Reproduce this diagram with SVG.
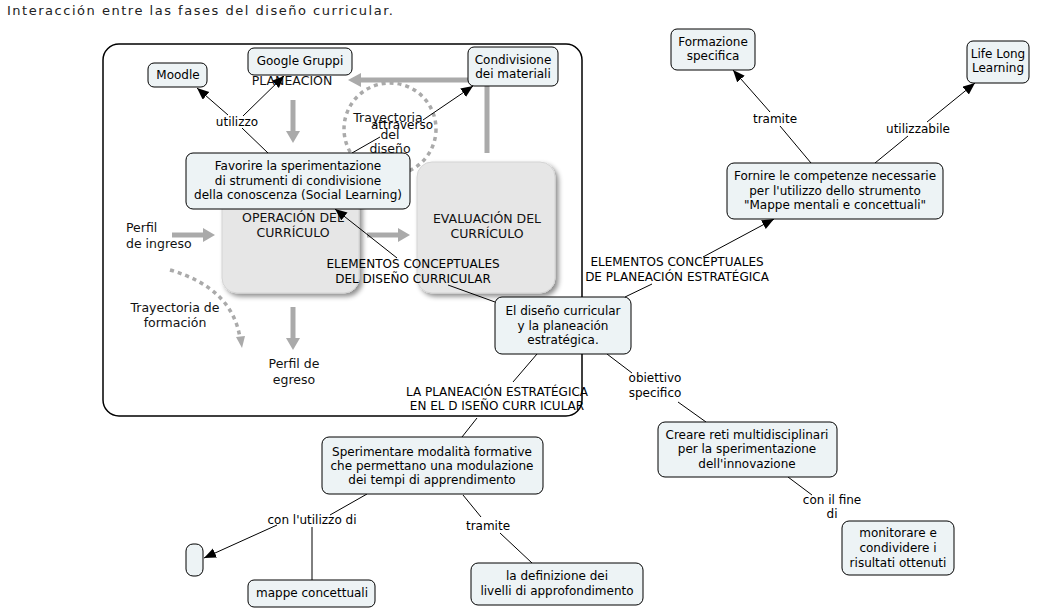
<svg xmlns="http://www.w3.org/2000/svg" width="1041" height="610" viewBox="0 0 1041 610">
<defs>
<style>
.t{font-family:"DejaVu Sans",Verdana,sans-serif;font-size:12px;fill:#000;text-anchor:middle}
.bg{font-family:"DejaVu Sans",Verdana,sans-serif;font-size:12.5px;fill:#111;text-anchor:middle}
.node{fill:#edf3f5;stroke:#000;stroke-width:1}
.ln{stroke:#000;stroke-width:1;fill:none}
.ga{stroke:#aaa;stroke-width:5;fill:none}
.gh{fill:#aaa}
.gd{stroke:#aaa;stroke-width:3.5;fill:none;stroke-dasharray:4 4}
.gb{fill:#e6e6e6;stroke:#d4d4d4;stroke-width:1}
</style>
<marker id="ah" markerUnits="userSpaceOnUse" markerWidth="14" markerHeight="12" refX="12" refY="5" orient="auto">
<path d="M0,0 L12,5 L0,10 z" fill="#000"/>
</marker>
<filter id="sh" x="-20%" y="-20%" width="150%" height="150%">
<feDropShadow dx="3" dy="3" stdDeviation="2.5" flood-color="#000" flood-opacity="0.45"/>
</filter>
</defs>
<rect width="1041" height="610" fill="#fff"/>
<text x="7" y="15" style="font-family:'DejaVu Sans',sans-serif;font-size:13px;fill:#222" textLength="386" lengthAdjust="spacing">Interacción entre las fases del diseño curricular.</text>

<g id="background">
<rect x="103" y="44" width="479" height="372" rx="16" fill="none" stroke="#000" stroke-width="1.5"/>
<circle cx="390" cy="129" r="46" class="gd"/>
<path d="M170,270 Q232,288 240,338" class="gd"/>
<polygon points="242,348 236,337 245,336" class="gh"/>
<polyline points="487,153 487,80 360,80" class="ga"/>
<polygon points="348,80 361,73 361,87" class="gh"/>
<line x1="293" y1="100" x2="293" y2="132" class="ga"/>
<polygon points="293,143 286,131 300,131" class="gh"/>
<line x1="172" y1="235" x2="204" y2="235" class="ga"/>
<polygon points="215,235 203,228 203,242" class="gh"/>
<line x1="367" y1="235" x2="399" y2="235" class="ga"/>
<polygon points="410,235 398,228 398,242" class="gh"/>
<line x1="293" y1="307" x2="293" y2="339" class="ga"/>
<polygon points="293,350 286,338 300,338" class="gh"/>
<rect x="222" y="162" width="137" height="131" rx="15" class="gb" filter="url(#sh)"/>
<rect x="417" y="162" width="138" height="131" rx="15" class="gb" filter="url(#sh)"/>
<text class="bg" x="292" y="85">PLANEACIÓN</text>
<text class="bg" x="388" y="122">Trayectoria</text>
<text class="bg" x="390" y="139">del</text>
<text class="bg" x="390" y="153">diseño</text>
<text class="bg" x="126" y="232" style="text-anchor:start">Perfil</text>
<text class="bg" x="126" y="248" style="text-anchor:start">de ingreso</text>
<text class="bg" x="293" y="222">OPERACIÓN DEL</text>
<text class="bg" x="293" y="237">CURRÍCULO</text>
<text class="bg" x="487" y="223">EVALUACIÓN DEL</text>
<text class="bg" x="487" y="238">CURRÍCULO</text>
<text class="bg" x="175" y="312">Trayectoria de</text>
<text class="bg" x="175" y="327">formación</text>
<text class="bg" x="294" y="368">Perfil de</text>
<text class="bg" x="294" y="384">egreso</text>
</g>

<g id="connectors">
<line x1="268" y1="153" x2="242" y2="128" class="ln"/>
<line x1="228" y1="115" x2="197" y2="88" class="ln" marker-end="url(#ah)"/>
<line x1="243" y1="116" x2="284" y2="76" class="ln" marker-end="url(#ah)"/>
<line x1="352" y1="153" x2="380" y2="137" class="ln"/>
<line x1="423" y1="120" x2="473" y2="86" class="ln" marker-end="url(#ah)"/>
<line x1="495" y1="302" x2="448" y2="285" class="ln"/>
<line x1="397" y1="258" x2="335" y2="209" class="ln" marker-end="url(#ah)"/>
<line x1="625" y1="297" x2="652" y2="284" class="ln"/>
<line x1="703" y1="257" x2="774" y2="219" class="ln" marker-end="url(#ah)"/>
<line x1="811" y1="163" x2="780" y2="126" class="ln"/>
<line x1="770" y1="112" x2="733" y2="70" class="ln" marker-end="url(#ah)"/>
<line x1="875" y1="163" x2="908" y2="136" class="ln"/>
<line x1="927" y1="122" x2="975" y2="83" class="ln" marker-end="url(#ah)"/>
<line x1="537" y1="354" x2="513" y2="382" class="ln"/>
<line x1="477" y1="418" x2="462" y2="437" class="ln"/>
<line x1="607" y1="354" x2="632" y2="373" class="ln"/>
<line x1="678" y1="402" x2="706" y2="422" class="ln"/>
<line x1="788" y1="477" x2="812" y2="495" class="ln"/>
<line x1="367" y1="494" x2="330" y2="515" class="ln"/>
<line x1="277" y1="525" x2="204" y2="558" class="ln" marker-end="url(#ah)"/>
<line x1="312" y1="527" x2="312" y2="580" class="ln"/>
<line x1="463" y1="495" x2="481" y2="517" class="ln"/>
<line x1="500" y1="533" x2="532" y2="563" class="ln"/>
</g>

<g id="labels">
<text class="t" x="237" y="126">utilizzo</text>
<text class="t" x="402" y="129">attraverso</text>
<text class="t" x="413" y="268">ELEMENTOS CONCEPTUALES</text>
<text class="t" x="413" y="283">DEL DISEÑO CURRICULAR</text>
<text class="t" x="677" y="266">ELEMENTOS CONCEPTUALES</text>
<text class="t" x="677" y="281">DE PLANEACIÓN ESTRATÉGICA</text>
<text class="t" x="775" y="123">tramite</text>
<text class="t" x="918" y="133">utilizzabile</text>
<text class="t" x="497" y="396">LA PLANEACIÓN ESTRATÉGICA</text>
<text class="t" x="497" y="410">EN EL D ISEÑO CURR ICULAR</text>
<text class="t" x="655" y="382">obiettivo</text>
<text class="t" x="655" y="397">specifico</text>
<text class="t" x="832" y="504">con il fine</text>
<text class="t" x="832" y="518">di</text>
<text class="t" x="312" y="524">con l'utilizzo di</text>
<text class="t" x="488" y="530">tramite</text>
</g>

<g id="moodle"><rect x="148" y="63" width="59" height="24" rx="6" class="node"/><text class="t" x="178" y="79">Moodle</text></g>
<g id="google-gruppi"><rect x="248" y="48" width="104" height="27" rx="6" class="node"/><text class="t" x="300" y="65">Google Gruppi</text></g>
<g id="condivisione"><rect x="468" y="47" width="90" height="39" rx="6" class="node"/><text class="t" x="513" y="64">Condivisione</text><text class="t" x="513" y="78">dei materiali</text></g>
<g id="favorire"><rect x="186" y="153" width="224" height="56" rx="7" class="node"/><text class="t" x="298" y="170">Favorire la sperimentazione</text><text class="t" x="298" y="185">di strumenti di condivisione</text><text class="t" x="298" y="199">della conoscenza (Social Learning)</text></g>
<g id="diseno-curricular"><rect x="495" y="297" width="136" height="57" rx="7" class="node"/><text class="t" x="563" y="315">El diseño curricular</text><text class="t" x="563" y="330">y la planeación</text><text class="t" x="563" y="344">estratégica.</text></g>
<g id="fornire"><rect x="727" y="163" width="216" height="56" rx="7" class="node"/><text class="t" x="835" y="180">Fornire le competenze necessarie</text><text class="t" x="835" y="195">per l'utilizzo dello strumento</text><text class="t" x="835" y="209">"Mappe mentali e concettuali"</text></g>
<g id="formazione"><rect x="671" y="29" width="84" height="41" rx="6" class="node"/><text class="t" x="713" y="46">Formazione</text><text class="t" x="713" y="60">specifica</text></g>
<g id="life-long"><rect x="967" y="41" width="62" height="42" rx="6" class="node"/><text class="t" x="998" y="58">Life Long</text><text class="t" x="998" y="72">Learning</text></g>
<g id="creare"><rect x="658" y="422" width="179" height="55" rx="7" class="node"/><text class="t" x="747" y="439">Creare reti multidisciplinari</text><text class="t" x="747" y="453">per la sperimentazione</text><text class="t" x="747" y="468">dell'innovazione</text></g>
<g id="monitorare"><rect x="842" y="521" width="112" height="54" rx="7" class="node"/><text class="t" x="898" y="537">monitorare e</text><text class="t" x="898" y="552">condividere i</text><text class="t" x="898" y="567">risultati ottenuti</text></g>
<g id="sperimentare"><rect x="322" y="437" width="221" height="57" rx="7" class="node"/><text class="t" x="432" y="456">Sperimentare modalità formative</text><text class="t" x="432" y="470">che permettano una modulazione</text><text class="t" x="432" y="484">dei tempi di apprendimento</text></g>
<g id="empty"><rect x="186" y="544" width="17" height="32" rx="7" class="node"/></g>
<g id="mappe"><rect x="248" y="580" width="127" height="27" rx="6" class="node"/><text class="t" x="312" y="597">mappe concettuali</text></g>
<g id="definizione"><rect x="471" y="563" width="172" height="42" rx="7" class="node"/><text class="t" x="557" y="580">la definizione dei</text><text class="t" x="557" y="595">livelli di approfondimento</text></g>
</svg>
